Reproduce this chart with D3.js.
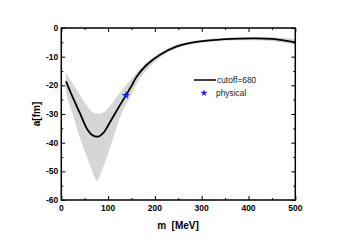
<!doctype html>
<html lang="en">
<head>
<meta charset="utf-8">
<title>a vs m</title>
<script src="https://cdn.jsdelivr.net/npm/d3@7"></script>
<style>
  body { margin: 0; background: #fff; }
  svg { display: block; font-family: Arial, "Liberation Sans", sans-serif; }
  .tick-lbl { font-size: 8.5px; font-weight: bold; fill: #000; }
</style>
</head>
<body>
<div id="chart"></div>
<script>
// central curve (cutoff=680)
var mCenter = [10, 25, 40, 55, 65, 79, 90, 100, 112, 125, 138, 150, 161, 182, 211, 247, 282, 318, 380, 450, 500];
var aCenter = [-18.6, -24.4, -29.8, -35.2, -37.2, -37.9, -36.6, -34.0, -30.6, -27.0, -23.5, -20.2, -17.0, -12.9, -9.3, -6.4, -5.0, -4.3, -3.7, -3.8, -5.0];

// uncertainty band
var mUpper = [10, 25, 40, 55, 65, 80, 92, 104, 118, 132, 150, 168, 190, 211, 250, 310, 380, 450, 500];
var aUpper = [-15.6, -19.5, -23.4, -27.2, -29.2, -29.9, -29.2, -27.3, -24.2, -21.2, -17.6, -14.3, -11.0, -8.6, -5.6, -3.9, -3.2, -3.2, -3.8];
var mLower = [10, 25, 40, 52, 62, 70, 76, 82, 90, 97, 106, 115, 125, 136, 150, 168, 190, 211, 250, 310, 380, 450, 500];
var aLower = [-22.8, -30.5, -38.5, -43.8, -48.2, -51.6, -53.3, -51.6, -48.2, -45.2, -40.8, -36.2, -31.5, -27.4, -23.0, -17.6, -13.4, -10.2, -6.9, -5.0, -4.3, -4.6, -5.8];

// physical point
var physical = [{ m: 138, a: -23.5 }];

var xTicks = [0, 100, 200, 300, 400, 500];
var yTicks = [0, -10, -20, -30, -40, -50, -60];
var xMinor = [50, 150, 250, 350, 450];
var yMinor = [-5, -15, -25, -35, -45, -55];

var W = 343, H = 240;
var pL = 61.3, pR = 295.3, pT = 28, pB = 200;

var svg = d3.select("#chart").append("svg")
    .attr("width", W)
    .attr("height", H);

var x = d3.scaleLinear().domain([0, 500]).range([pL, pR]);
var y = d3.scaleLinear().domain([-60, 0]).range([pB, pT]);

// band
var ptLine = d3.line().curve(d3.curveCatmullRom.alpha(0.5));
var upperPath = ptLine(mUpper.map(function(m, i) { return [x(m), y(aUpper[i])]; }));
var lowerPath = ptLine(mLower.map(function(m, i) { return [x(m), y(aLower[i])]; }).reverse());
svg.append("path")
    .attr("d", upperPath + "L" + lowerPath.slice(1) + "Z")
    .attr("fill", "#d6d6d6")
    .attr("stroke", "none");

// central line
var line = d3.line()
    .x(function(d) { return x(d[0]); })
    .y(function(d) { return y(d[1]); })
    .curve(d3.curveCatmullRom.alpha(0.5));
svg.append("path")
    .attr("d", line(mCenter.map(function(m, i) { return [m, aCenter[i]]; })))
    .attr("fill", "none")
    .attr("stroke", "#000")
    .attr("stroke-width", 1.8);

// star
svg.selectAll(".phys").data(physical).enter().append("path")
    .attr("class", "phys")
    .attr("d", d3.symbol().type(d3.symbolStar).size(22))
    .attr("transform", function(d) { return "translate(" + x(d.m) + "," + y(d.a) + ")"; })
    .attr("fill", "#1a1aff");

// axes, ticks inward on all four sides
function axisSet(gen, tx, ty, scale, major, minor) {
  svg.append("g").attr("transform", "translate(" + tx + "," + ty + ")")
    .call(gen(scale).tickValues(minor).tickSize(-2).tickFormat(""))
    .call(function(g) { g.select(".domain").remove(); });
  svg.append("g").attr("transform", "translate(" + tx + "," + ty + ")")
    .call(gen(scale).tickValues(major).tickSize(-4).tickFormat(""))
    .call(function(g) { g.select(".domain").remove(); });
}
axisSet(d3.axisBottom, 0, pB, x, xTicks, xMinor);
axisSet(d3.axisTop, 0, pT, x, xTicks, xMinor);
axisSet(d3.axisLeft, pL, 0, y, yTicks, yMinor);
axisSet(d3.axisRight, pR, 0, y, yTicks, yMinor);
svg.selectAll(".tick line").attr("stroke", "#000").attr("stroke-width", 1);

svg.append("rect")
    .attr("x", pL).attr("y", pT)
    .attr("width", pR - pL).attr("height", pB - pT)
    .attr("fill", "none").attr("stroke", "#000").attr("stroke-width", 1.5);

// tick labels
svg.selectAll(".xl").data(xTicks).enter().append("text")
    .attr("class", "tick-lbl")
    .attr("x", function(d) { return x(d); })
    .attr("y", pB + 11)
    .attr("text-anchor", "middle")
    .text(function(d) { return d; });
svg.selectAll(".yl").data(yTicks).enter().append("text")
    .attr("class", "tick-lbl")
    .attr("x", pL - 3)
    .attr("y", function(d) { return y(d) + 3; })
    .attr("text-anchor", "end")
    .text(function(d) { return d; });

// axis titles
svg.append("text")
    .attr("x", 178).attr("y", 229)
    .attr("text-anchor", "middle")
    .attr("font-size", 10).attr("font-weight", "bold")
    .attr("xml:space", "preserve")
    .text("m  [MeV]");
svg.append("text")
    .attr("transform", "translate(40," + (pT + pB) / 2 + ") rotate(-90)")
    .attr("text-anchor", "middle")
    .attr("font-size", 10).attr("font-weight", "bold")
    .text("a[fm]");

// legend
var lg = svg.append("g");
lg.append("line")
    .attr("x1", 194).attr("x2", 216).attr("y1", 80).attr("y2", 80)
    .attr("stroke", "#000").attr("stroke-width", 1.5);
lg.append("text").attr("x", 217).attr("y", 83)
    .attr("font-size", 8.4).attr("fill", "#222").text("cutoff=680");
lg.append("path")
    .attr("d", d3.symbol().type(d3.symbolStar).size(16))
    .attr("transform", "translate(204,93)")
    .attr("fill", "#1a1aff");
lg.append("text").attr("x", 216).attr("y", 96)
    .attr("font-size", 8.4).attr("fill", "#222").text("physical");
</script>
</body>
</html>
